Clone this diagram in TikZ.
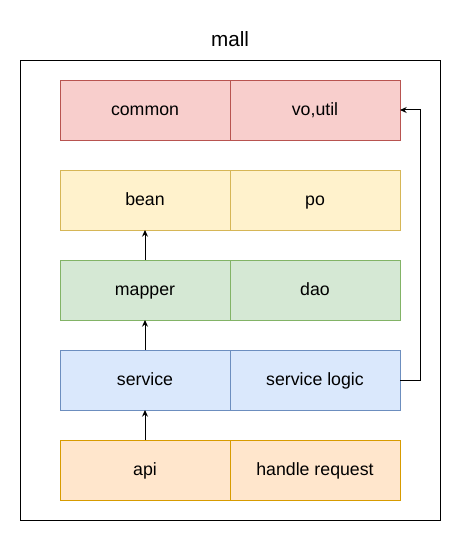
\documentclass[tikz,border=0pt]{standalone}
\usepackage{fontspec}
\setmainfont{Liberation Sans}
\usetikzlibrary{positioning,arrows.meta}
\definecolor{rojoF}{HTML}{F8CECC}\definecolor{rojoD}{HTML}{B85450}
\definecolor{amarF}{HTML}{FFF2CC}\definecolor{amarD}{HTML}{D6B656}
\definecolor{verdF}{HTML}{D5E8D4}\definecolor{verdD}{HTML}{82B366}
\definecolor{azulF}{HTML}{DAE8FC}\definecolor{azulD}{HTML}{6C8EBF}
\definecolor{naraF}{HTML}{FFE6CC}\definecolor{naraD}{HTML}{D79B00}

\begin{document}
\begin{tikzpicture}[x=0.75pt, y=-0.75pt, font=\fontsize{13.3}{15}\selectfont,
      >={Stealth[length=5pt,width=4.5pt]},
      c/.style={minimum width=127.5pt, minimum height=45pt, inner sep=0pt, outer sep=0pt,
                line width=0.6pt, text height=0.84em, text depth=0.06em},
      rojo/.style={c, draw=rojoD, fill=rojoF},
      amar/.style={c, draw=amarD, fill=amarF},
      verd/.style={c, draw=verdD, fill=verdF},
      azul/.style={c, draw=azulD, fill=azulF},
      nara/.style={c, draw=naraD, fill=naraF}]
    \useasboundingbox (0,0) rectangle (461,541);
    \node[draw, line width=0.6pt, minimum width=315pt, minimum height=345pt, inner sep=0pt]
      (mall) at (230,290) {};
    \node[font=\fontsize{15.5}{18}\selectfont, text height=0.84em, text depth=0.06em]
      (titulo) at (230,41) {mall};
    \node[rojo] (common) at (145,110) {common};
    \node[rojo, right=0pt of common] (voutil) {vo,util};
    \node[amar, below=22.5pt of common] (bean) {bean};
    \node[amar, right=0pt of bean] (po) {po};
    \node[verd, below=22.5pt of bean] (mapper) {mapper};
    \node[verd, right=0pt of mapper] (dao) {dao};
    \node[azul, below=22.5pt of mapper] (service) {service};
    \node[azul, right=0pt of service] (logic) {service logic};
    \node[nara, below=22.5pt of service] (api) {api};
    \node[nara, right=0pt of api] (handle) {handle request};
    \draw[->, line width=0.75pt] (mapper) -- (bean);
    \draw[->, line width=0.75pt] (service) -- (mapper);
    \draw[->, line width=0.75pt] (api) -- (service);
    \draw[->, line width=0.75pt] (logic.east) -- ++(20,0) |- (voutil.east);
  \end{tikzpicture}
\end{document}
